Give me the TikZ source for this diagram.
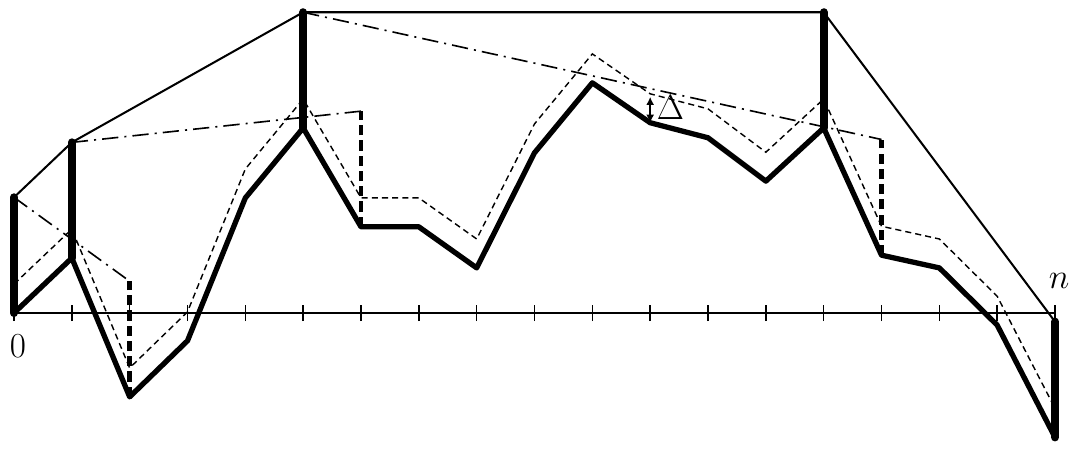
\documentclass[tikz,border=0pt]{standalone}
\usepackage{amsmath}
\usepackage{tikz}
\usetikzlibrary{arrows.meta}

\begin{document}
\begin{tikzpicture}[x=1cm,y=1cm,font=\fontsize{17}{20}\selectfont,
  walk/.style={line width=2.6pt,line join=round},
  shifted/.style={line width=0.7pt,dash pattern=on 3pt off 2pt},
  gapbar/.style={line width=4pt,line cap=round},
  gapdash/.style={line width=2.4pt,dash pattern=on 5pt off 2.5pt},
  chord/.style={line width=0.8pt,dash pattern=on 8pt off 3pt on 1pt off 3pt},
  hull/.style={line width=1pt,line join=round}]
  \useasboundingbox (-0.242,-2.404) rectangle (18.38,5.412);
  % points of the walk, the shifted walk and the bar tops
  \foreach \k/\s in {0/0,1/0.95,2/-1.45,3/-0.48,4/1.99,5/3.2,6/1.49,7/1.49,8/0.78,9/2.77,
    10/3.98,11/3.29,12/3.03,13/2.28,14/3.2,15/1.0,16/0.78,17/-0.21,18/-2.15}{
    \coordinate (s\k) at (\k,\s);
    \coordinate (d\k) at (\k,\s+0.5);
    \coordinate (h\k) at (\k,\s+2);
  }
  % axis
  \draw[line width=0.9pt] (0,0) -- (18,0);
  \foreach \k in {0,...,18}
    \draw[line width=0.7pt] (\k,-0.14) -- (\k,0.14);
  \node (zero) at (0.07,-0.57) {$0$};
  \node (en) at (18.07,0.55) {$n$};
  % upper hull
  \draw[hull] (h0) -- (h1) -- (h5) -- (h14) -- (h18);
  % chords
  \draw[chord] (h0) -- (h2);
  \draw[chord] (h1) -- (h6);
  \draw[chord] (h5) -- (h15);
  % shifted walk
  \draw[shifted] (d0) \foreach \k in {1,...,18}{ -- (d\k)};
  % dashed gaps
  \foreach \k in {2,6,15}
    \draw[gapdash] (s\k) -- (h\k);
  % walk
  \draw[walk] (s0) \foreach \k in {1,...,18}{ -- (s\k)};
  % bars
  \foreach \k in {0,1,5,14,18}
    \draw[gapbar] (s\k) -- (h\k);
  % shift
  \draw[{Latex[length=4pt,width=4pt]}-{Latex[length=4pt,width=4pt]},line width=0.8pt,shorten >=1.5pt] (s11) -- (d11);
  \node (delta) at (11.35,3.56) {$\Delta$};
\end{tikzpicture}
\end{document}
